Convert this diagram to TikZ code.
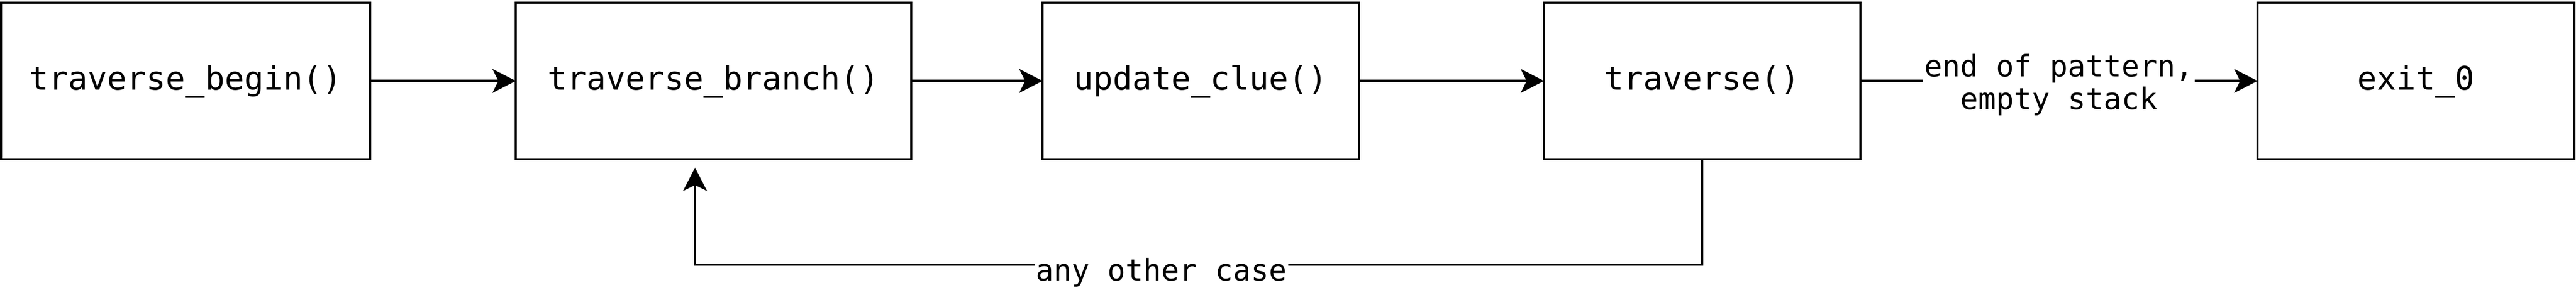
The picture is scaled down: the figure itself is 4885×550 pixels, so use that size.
\documentclass[tikz,border=0pt]{standalone}
\usepackage{fontspec}
\setmonofont{DejaVu Sans Mono}
\usetikzlibrary{arrows.meta}
\newcommand\bxfont{\ttfamily\fontsize{30.75pt}{36pt}\selectfont}
\newcommand\lbfont{\ttfamily\fontsize{28.2pt}{31pt}\selectfont}
\begin{document}
\begin{tikzpicture}[x=0.5pt,y=-0.5pt,
  box/.style={draw=black, line width=2.4pt, minimum width=#1, minimum height=148.5pt,
    inner sep=0pt, outer sep=0pt, font=\bxfont, text height=24pt, text depth=6.8pt},
  arr/.style={draw=black, line width=2.4pt, line join=miter,
    -{Stealth[length=22pt,width=22.5pt,inset=5.5pt]}},
  elabel/.style={fill=white, font=\lbfont, align=center, inner xsep=1.5pt, inner ysep=0pt},
]
\useasboundingbox (0,0) rectangle (4885,550);
\node[box=350pt] (b1) at (352,153.5) {traverse\_begin()};
\node[box=375pt] (b2) at (1353,153.5) {traverse\_branch()};
\node[box=300pt] (b3) at (2277,153.5) {update\_clue()};
\node[box=300pt] (b4) at (3228,153.5) {traverse()};
\node[box=300.5pt] (b5) at (4581.5,153.5) {exit\_0};
\coordinate (fbend) at (1318,318);
\coordinate (c1) at (3228,502);
\coordinate (c2) at (1318,502);
\draw[arr] (b1.east) -- (b2.west);
\draw[arr] (b2.east) -- (b3.west);
\draw[arr] (b3.east) -- (b4.west);
\draw[arr] (b4.east) -- node[elabel, yshift=-3.75pt] (l1) {end of pattern,\\empty stack} (b5.west);
\draw[arr] (b4.south) -- (c1) -- node[elabel, pos=0.537, text height=21.4pt, text depth=6.8pt, yshift=-8.15pt] (l2) {any other case} (c2) -- (fbend);
\end{tikzpicture}
\end{document}
